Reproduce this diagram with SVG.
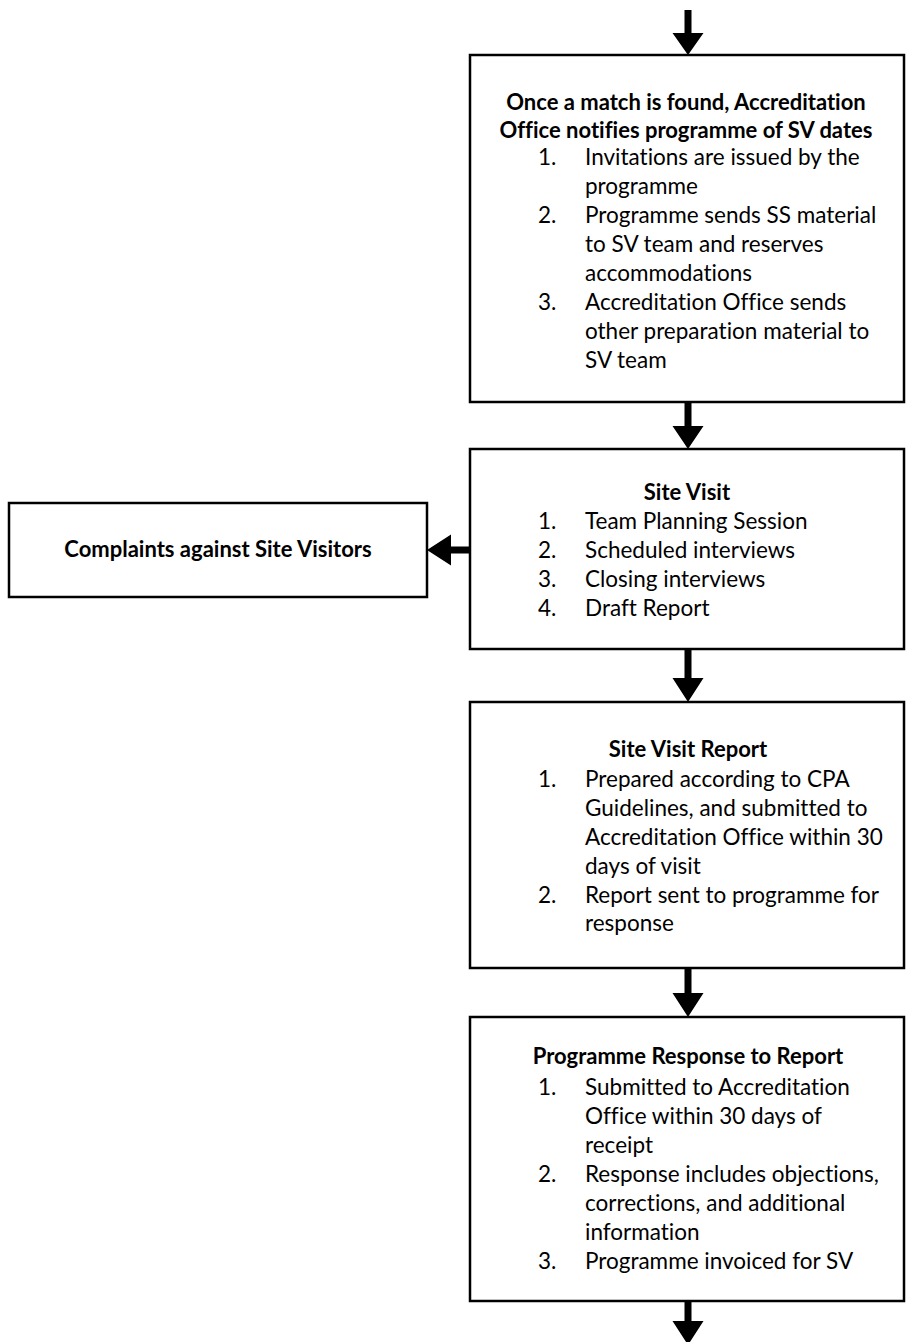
<svg xmlns="http://www.w3.org/2000/svg" width="906" height="1342" viewBox="0 0 906 1342">
<style>
.box{fill:#fff;stroke:#000;stroke-width:2.5}
text{font-family:Lato,"Liberation Sans",sans-serif;font-size:22.5px;fill:#000;font-variant-ligatures:none;font-feature-settings:"liga" 0,"clig" 0}
.t{font-weight:bold;text-anchor:middle;font-size:22px}
.arr{fill:#000;stroke:none}
</style>
<rect width="906" height="1342" fill="#fff"/>
<g id="connectors">
<path class="arr" d="M684.5 10h7v23h12l-15.5 22l-15.5-22h12z"/>
<path class="arr" d="M684.5 402h7v24h12l-15.5 23l-15.5-23h12z"/>
<path class="arr" d="M684.5 649h7v29h12l-15.5 24l-15.5-24h12z"/>
<path class="arr" d="M684.5 968h7v25h12l-15.5 24l-15.5-24h12z"/>
<path class="arr" d="M684.5 1301h7v20h12l-15.5 24l-15.5-24h12z"/>
<path class="arr" d="M470 546.5v7h-19v12l-24-15.5l24-15.5v12z"/>
</g>
<g id="node1">
<rect class="box" x="470" y="55" width="434" height="347"/>
<text class="t" x="686" y="110">Once a match is found, Accreditation</text>
<text class="t" x="686" y="138">Office notifies programme of SV dates</text>
<text x="538" y="165">1.</text><text x="585" y="165">Invitations are issued by the</text>
<text x="585" y="194">programme</text>
<text x="538" y="223">2.</text><text x="585" y="223">Programme sends SS material</text>
<text x="585" y="252">to SV team and reserves</text>
<text x="585" y="281">accommodations</text>
<text x="538" y="310">3.</text><text x="585" y="310">Accreditation Office sends</text>
<text x="585" y="339">other preparation material to</text>
<text x="585" y="368">SV team</text>
</g>
<g id="node2">
<rect class="box" x="470" y="449" width="434" height="200"/>
<text class="t" x="687" y="500">Site Visit</text>
<text x="538" y="529">1.</text><text x="585" y="529">Team Planning Session</text>
<text x="538" y="558">2.</text><text x="585" y="558">Scheduled interviews</text>
<text x="538" y="587">3.</text><text x="585" y="587">Closing interviews</text>
<text x="538" y="616">4.</text><text x="585" y="616">Draft Report</text>
</g>
<g id="node-complaints">
<rect class="box" x="9" y="503" width="418" height="94"/>
<text class="t" x="218" y="557">Complaints against Site Visitors</text>
</g>
<g id="node3">
<rect class="box" x="470" y="702" width="434" height="266"/>
<text class="t" x="688" y="757">Site Visit Report</text>
<text x="538" y="787">1.</text><text x="585" y="787">Prepared according to CPA</text>
<text x="585" y="816">Guidelines, and submitted to</text>
<text x="585" y="845">Accreditation Office within 30</text>
<text x="585" y="874">days of visit</text>
<text x="538" y="903">2.</text><text x="585" y="903">Report sent to programme for</text>
<text x="585" y="931">response</text>
</g>
<g id="node4">
<rect class="box" x="470" y="1017" width="434" height="284"/>
<text class="t" x="688" y="1064">Programme Response to Report</text>
<text x="538" y="1095">1.</text><text x="585" y="1095">Submitted to Accreditation</text>
<text x="585" y="1124">Office within 30 days of</text>
<text x="585" y="1153">receipt</text>
<text x="538" y="1182">2.</text><text x="585" y="1182">Response includes objections,</text>
<text x="585" y="1211">corrections, and additional</text>
<text x="585" y="1240">information</text>
<text x="538" y="1269">3.</text><text x="585" y="1269">Programme invoiced for SV</text>
</g>
</svg>
